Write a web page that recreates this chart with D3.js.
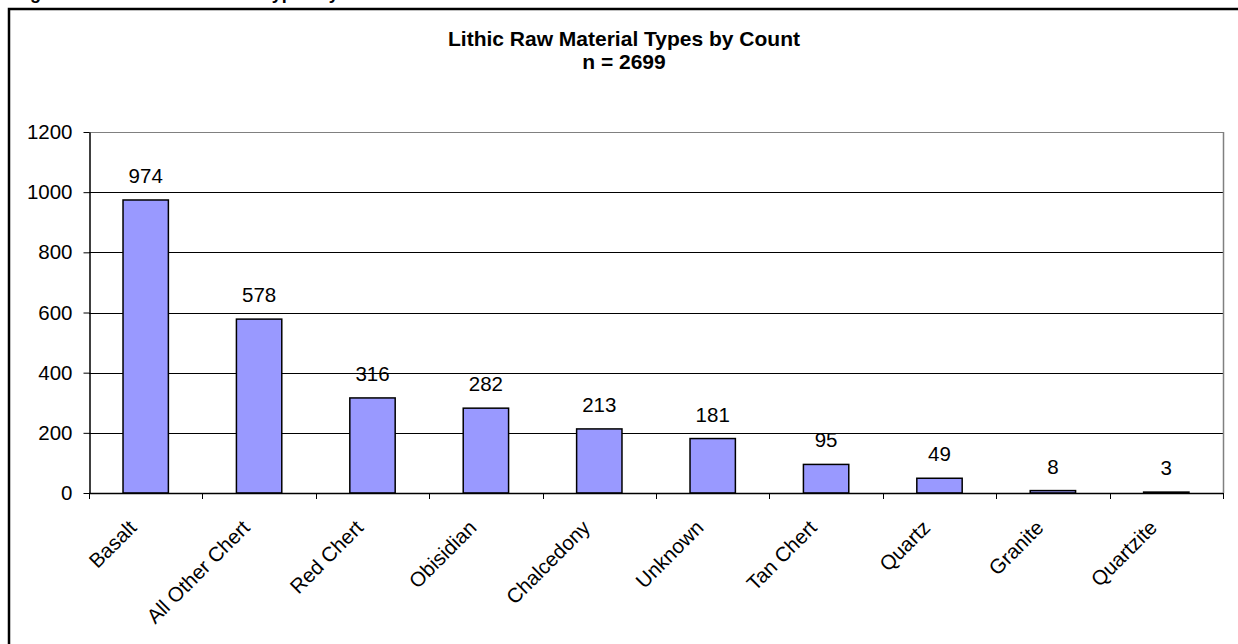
<!DOCTYPE html>
<html>
<head>
<meta charset="utf-8">
<script src="https://cdn.jsdelivr.net/npm/d3@7"></script>
<style>
  html, body { margin: 0; padding: 0; background: #fff; }
  svg { display: block; }
  text { font-family: "Liberation Sans", Arial, sans-serif; fill: #000; }
</style>
</head>
<body>
<svg id="chart" width="1238" height="644"></svg>
<script>
const categories = ["Basalt", "All Other Chert", "Red Chert", "Obisidian", "Chalcedony", "Unknown", "Tan Chert", "Quartz", "Granite", "Quartzite"];
const counts = [974, 578, 316, 282, 213, 181, 95, 49, 8, 3];
const yTicks = [0, 200, 400, 600, 800, 1000, 1200];
const titleLines = ["Lithic Raw Material Types by Count", "n = 2699"];
const captionText = "Figure 4. Lithic Raw Material Types by Count";

const svg = d3.select("#chart");
const plot = { left: 89, right: 1223, top: 132, bottom: 493 };
const FS = "20.5px";

const x = d3.scaleBand().domain(categories).range([plot.left, plot.right]).paddingInner(0.6).paddingOuter(0.3);
const band = d3.scaleBand().domain(categories).range([plot.left, plot.right]);
const y = d3.scaleLinear().domain([0, 1200]).range([plot.bottom, plot.top]);

// clipped caption above the frame
svg.append("text").attr("x", 14).attr("y", -1)
  .style("font-size", "18px").style("font-weight", "bold")
  .text(captionText);

// outer chart frame
svg.append("rect").attr("x", 9).attr("y", 9).attr("width", 1260).attr("height", 700)
  .attr("fill", "none").attr("stroke", "#000").attr("stroke-width", 2.5);

// title
const title = svg.append("text").attr("x", 624).attr("text-anchor", "middle")
  .style("font-size", "21px").style("font-weight", "bold");
titleLines.forEach((t, i) => {
  title.append("tspan").attr("x", 624).attr("y", 46 + i * 23).text(t);
});

// gridlines
svg.append("g").selectAll("line").data(yTicks.filter(d => d > 0)).join("line")
  .attr("x1", plot.left).attr("x2", plot.right)
  .attr("y1", d => Math.round(y(d)) + 0.5).attr("y2", d => Math.round(y(d)) + 0.5)
  .attr("stroke", d => d === 1200 ? "#808080" : "#000").attr("stroke-width", 1);

// plot area right border
svg.append("line").attr("x1", plot.right + 0.5).attr("x2", plot.right + 0.5)
  .attr("y1", plot.top).attr("y2", plot.bottom).attr("stroke", "#808080").attr("stroke-width", 1.5);

// bars
svg.append("g").selectAll("rect").data(counts).join("rect")
  .attr("x", (d, i) => x(categories[i]))
  .attr("width", x.bandwidth())
  .attr("y", d => y(d))
  .attr("height", d => y(0) - y(d))
  .attr("fill", "#9999FF").attr("stroke", "#000").attr("stroke-width", 1.5);

// value labels
svg.append("g").selectAll("text").data(counts).join("text")
  .attr("x", (d, i) => x(categories[i]) + x.bandwidth() / 2)
  .attr("y", d => y(d) - 17)
  .attr("text-anchor", "middle")
  .style("font-size", FS)
  .text(d => d);

// y axis
const yAxis = svg.append("g").attr("transform", `translate(${plot.left + 0.5},0)`)
  .call(d3.axisLeft(y).tickValues(yTicks).tickFormat(d3.format("d")).tickSize(6).tickSizeOuter(0).tickPadding(11));
yAxis.attr("font-size", null).attr("font-family", null);
yAxis.selectAll("text").style("font-size", FS);
yAxis.selectAll("line, path").attr("stroke", "#000");
yAxis.select("path").attr("stroke-width", 1.5);

// x axis baseline and ticks at category boundaries
const boundaries = categories.map(c => band(c)).concat([plot.right]);
svg.append("line").attr("x1", plot.left).attr("x2", plot.right)
  .attr("y1", plot.bottom + 0.5).attr("y2", plot.bottom + 0.5)
  .attr("stroke", "#000").attr("stroke-width", 1.5);
svg.append("g").selectAll("line").data(boundaries).join("line")
  .attr("x1", d => Math.round(d) + 0.5).attr("x2", d => Math.round(d) + 0.5)
  .attr("y1", plot.bottom).attr("y2", plot.bottom + 6)
  .attr("stroke", "#000");

// category labels
svg.append("g").selectAll("text").data(categories).join("text")
  .attr("transform", c => `translate(${band(c) + band.bandwidth() / 2 - 8},${plot.bottom + 36}) rotate(-45)`)
  .attr("text-anchor", "end")
  .style("font-size", FS)
  .text(c => c);
</script>
</body>
</html>
